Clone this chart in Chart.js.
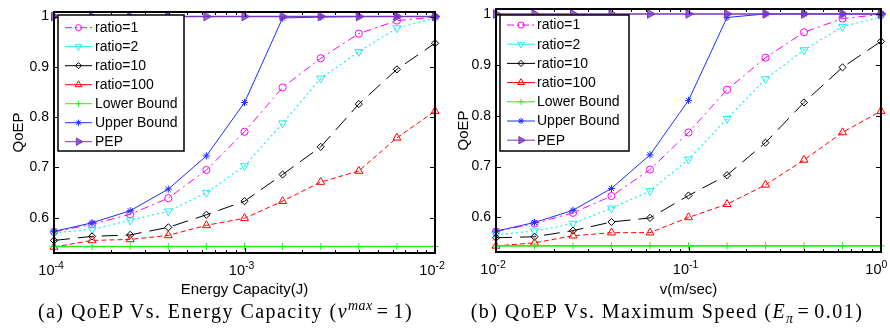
<!DOCTYPE html>
<html><head><meta charset="utf-8">
<script src="https://cdn.jsdelivr.net/npm/chart.js@4/dist/chart.umd.min.js"></script>
<style>
html,body{margin:0;padding:0;background:#fff}
body{width:890px;height:332px;overflow:hidden;position:relative;font-family:"Liberation Sans",Arial,sans-serif}
.pane{position:absolute;top:0;height:299px}
#pa{left:0;width:460px}#pb{left:445px;width:445px}
.cap{position:absolute;top:300px;height:26px;font-family:"Liberation Serif","Times New Roman",serif;font-size:20px;letter-spacing:1.45px;white-space:nowrap;text-align:center;color:#000}
#capa{left:0;width:451px}
#capb{left:445px;width:444px}
sup,sub{font-size:70%;line-height:0;letter-spacing:0.5px}
.eq{margin:0 4px}
</style></head><body>
<div class="pane" id="pa"><canvas id="ca" width="460" height="299"></canvas></div>
<div class="pane" id="pb"><canvas id="cb" width="445" height="299"></canvas></div>
<div class="cap" id="capa">(a) QoEP Vs. Energy Capacity (<i>v</i><sup><i>max</i></sup><span class="eq">=</span>1)</div>
<div class="cap" id="capb">(b) QoEP Vs. Maximum Speed (<i>E</i><sub><i>π</i></sub><span class="eq">=</span>0.01)</div>
<script>
// ---------- data ----------
const seriesNames = ['ratio=1','ratio=2','ratio=10','ratio=100','Lower Bound','Upper Bound','PEP'];

const energyCapacity = [0.0001, 0.0001585, 0.0002512, 0.0003981, 0.000631, 0.001, 0.001585, 0.002512, 0.003981, 0.00631, 0.01];
const maxSpeed       = [0.01, 0.01585, 0.02512, 0.03981, 0.0631, 0.1, 0.1585, 0.2512, 0.3981, 0.631, 1];

const qoepA_ratio1   = [0.572, 0.587, 0.607, 0.639, 0.695, 0.771, 0.859, 0.917, 0.966, 0.992, 0.999];
const qoepA_ratio2   = [0.570, 0.577, 0.595, 0.613, 0.650, 0.703, 0.788, 0.877, 0.930, 0.977, 0.997];
const qoepA_ratio10  = [0.555, 0.563, 0.566, 0.581, 0.606, 0.633, 0.686, 0.741, 0.826, 0.895, 0.947];
const qoepA_ratio100 = [0.542, 0.555, 0.557, 0.565, 0.585, 0.599, 0.633, 0.671, 0.693, 0.759, 0.812];
const qoepA_lower    = [0.543, 0.543, 0.543, 0.543, 0.543, 0.543, 0.543, 0.543, 0.543, 0.543, 0.543];
const qoepA_upper    = [0.573, 0.590, 0.614, 0.657, 0.723, 0.829, 0.997, 0.999, 1, 1, 1];
const qoepA_pep      = [1, 1, 1, 1, 1, 1, 1, 1, 1, 1, 1];

const qoepB_ratio1   = [0.572, 0.588, 0.609, 0.642, 0.694, 0.767, 0.851, 0.914, 0.964, 0.991, 0.999];
const qoepB_ratio2   = [0.566, 0.573, 0.588, 0.618, 0.652, 0.714, 0.794, 0.872, 0.929, 0.975, 0.994];
const qoepB_ratio10  = [0.560, 0.562, 0.574, 0.591, 0.599, 0.643, 0.683, 0.747, 0.826, 0.895, 0.946];
const qoepB_ratio100 = [0.544, 0.550, 0.564, 0.570, 0.570, 0.600, 0.626, 0.664, 0.713, 0.767, 0.809];
const qoepB_lower    = [0.544, 0.544, 0.544, 0.544, 0.544, 0.544, 0.544, 0.544, 0.544, 0.544, 0.544];
const qoepB_upper    = [0.573, 0.590, 0.614, 0.657, 0.723, 0.830, 0.993, 1, 1, 1, 1];
const qoepB_pep      = [1, 1, 1, 1, 1, 1, 1, 1, 1, 1, 1];

const yTickValues = [0.6, 0.7, 0.8, 0.9, 1];
const xTickValuesA = [0.0001, 0.001, 0.01];
const xTickLabelsA = [['10', '-4'], ['10', '-3'], ['10', '-2']];
const xTickValuesB = [0.01, 0.1, 1];
const xTickLabelsB = [['10', '-2'], ['10', '-1'], ['10', '0']];

// ---------- styles ----------
const styles = [
  {color:'#ff00ff', bg:'rgba(0,0,0,0)', dash:[8,4,2,4], legendDash:[7,3,2,3], ps:'circle', rot:0, r:3.6, w:1},
  {color:'#22eeee', bg:'rgba(0,0,0,0)', dash:[2,3], legendDash:[], ps:'triangle', rot:180, r:4.6, w:1.2},
  {color:'#000000', bg:'rgba(0,0,0,0)', dash:[16,8], legendDash:[], ps:'rectRot', rot:0, r:3.6, w:1},
  {color:'#ff0000', bg:'rgba(0,0,0,0)', dash:[5,3], legendDash:[], ps:'triangle', rot:0, r:4.6, w:1},
  {color:'#22f022', bg:'rgba(0,0,0,0)', dash:[], legendDash:[], ps:'cross', rot:0, r:3.6, w:1.6},
  {color:'#1f2fff', bg:'rgba(0,0,0,0)', dash:[], legendDash:[], ps:'star', rot:0, r:3.6, w:1},
  {color:'#7a35c0', bg:'rgba(122,53,192,0.75)', dash:[], legendDash:[], ps:'triangle', rot:90, r:5, w:1.5}
];

const FONT = '"Liberation Sans", Arial, sans-serif';
const CANVAS_H = 299;
const H = Chart.helpers;

const framePlugin = {
  id: 'frame',
  afterDatasetsDraw(chart, args, o) {
    const {ctx, chartArea: a} = chart;
    const xs = chart.scales.x, ys = chart.scales.y;
    ctx.save();
    ctx.strokeStyle = '#000';
    ctx.lineWidth = 1;
    ctx.setLineDash([]);
    ctx.beginPath();
    for (const v of o.yTicks) {
      const py = Math.round(ys.getPixelForValue(v)) + 0.5;
      ctx.moveTo(a.left, py); ctx.lineTo(a.left + 5, py);
      ctx.moveTo(a.right, py); ctx.lineTo(a.right - 5, py);
    }
    for (const d of o.xTicks) {
      const px = Math.round(xs.getPixelForValue(d)) + 0.5;
      ctx.moveTo(px, a.bottom); ctx.lineTo(px, a.bottom - 5);
      ctx.moveTo(px, a.top); ctx.lineTo(px, a.top + 5);
      for (let m = 2; m <= 9; m++) {
        const v = d * m;
        if (v > xs.max) break;
        const qx = Math.round(xs.getPixelForValue(v)) + 0.5;
        ctx.moveTo(qx, a.bottom); ctx.lineTo(qx, a.bottom - 3);
        ctx.moveTo(qx, a.top); ctx.lineTo(qx, a.top + 3);
      }
    }
    ctx.stroke();
    ctx.lineWidth = 2;
    ctx.strokeRect(a.left, a.top, a.right - a.left, a.bottom - a.top);
    // power-of-ten tick labels
    ctx.fillStyle = '#000';
    ctx.textBaseline = 'alphabetic';
    o.xTicks.forEach((v, i) => {
      const px = xs.getPixelForValue(v);
      const [base, ex] = o.xLabels[i];
      ctx.font = '14.5px ' + FONT;
      ctx.textAlign = 'right';
      ctx.fillText(base, px + 0.5, a.bottom + 22);
      ctx.font = '10.5px ' + FONT;
      ctx.textAlign = 'left';
      ctx.fillText(ex, px + 0.5, a.bottom + 15.5);
    });
    ctx.restore();
  }
};

const boxLegendPlugin = {
  id: 'boxLegend',
  afterDraw(chart, args, o) {
    const {ctx, chartArea: a} = chart;
    const bx = a.left + o.dx, by = a.top + o.dy;
    ctx.save();
    ctx.fillStyle = '#fff';
    ctx.fillRect(bx, by, o.w, o.h);
    ctx.strokeStyle = '#000';
    ctx.lineWidth = 1.5;
    ctx.setLineDash([]);
    ctx.strokeRect(bx, by, o.w, o.h);
    ctx.font = '14px ' + FONT;
    ctx.textBaseline = 'middle';
    ctx.textAlign = 'left';
    chart.data.datasets.forEach((ds, i) => {
      const st = styles[i];
      const cy = by + o.first + i * o.step;
      const x0 = bx + o.sx0, x1 = bx + o.sx1;
      ctx.strokeStyle = st.color;
      ctx.lineWidth = 1;
      ctx.setLineDash(st.legendDash);
      ctx.beginPath(); ctx.moveTo(x0, cy); ctx.lineTo(x1, cy); ctx.stroke();
      ctx.setLineDash([]);
      ctx.fillStyle = st.bg;
      H.drawPoint(ctx, {pointStyle: st.ps, rotation: st.rot, radius: st.r * 0.85, borderWidth: 1}, (x0 + x1) / 2, cy);
      ctx.fillStyle = '#000';
      ctx.fillText(ds.label, bx + o.tx, cy + 0.5);
    });
    ctx.restore();
  }
};

function makeChart(canvasId, xs, series, xTickVals, xTickLabels, xTitle, g) {
  const W = document.getElementById(canvasId).width;
  const datasets = series.map((vals, i) => {
    const st = styles[i];
    return {
      label: seriesNames[i],
      data: xs.map((x, k) => ({x: x, y: vals[k]})),
      borderColor: st.color,
      backgroundColor: st.bg,
      borderWidth: st.w,
      borderDash: st.dash,
      pointStyle: st.ps,
      pointRotation: st.rot,
      pointRadius: st.r,
      pointBorderWidth: 1,
      pointBorderColor: st.color,
      pointBackgroundColor: st.bg,
      tension: 0,
      fill: false,
      clip: false,
      order: 10 - i
    };
  });
  return new Chart(document.getElementById(canvasId), {
    type: 'line',
    data: {datasets},
    plugins: [framePlugin, boxLegendPlugin],
    options: {
      responsive: false,
      animation: false,
      events: [],
      layout: {padding: {left: 10, right: W - g.right, top: g.top, bottom: 0}},
      scales: {
        x: {
          type: 'logarithmic',
          min: xTickVals[0], max: xTickVals[xTickVals.length - 1],
          grid: {display: false, drawTicks: false},
          border: {display: false},
          afterBuildTicks: s => { s.ticks = xTickVals.map(v => ({value: v})); },
          afterFit: s => { s.height = CANVAS_H - g.bottom; s.paddingLeft = 0; s.paddingRight = 0; },
          ticks: {display: false},
          title: {display: true, text: xTitle, color: '#000', padding: 0,
                  font: {family: FONT, size: 15}}
        },
        y: {
          type: 'linear',
          min: g.ymin, max: g.ymax,
          grid: {display: false, drawTicks: false},
          border: {display: false},
          afterBuildTicks: s => { s.ticks = yTickValues.map(v => ({value: v})); },
          afterFit: s => { s.width = g.left - 10; s.paddingTop = 0; s.paddingBottom = 0; },
          ticks: {
            padding: 5, color: '#000',
            font: {family: FONT, size: 14},
            callback: v => String(Math.round(v * 10) / 10)
          },
          title: {display: true, text: 'QoEP', color: '#000', padding: 0,
                  font: {family: FONT, size: 15}}
        }
      },
      plugins: {
        legend: {display: false},
        tooltip: {enabled: false},
        frame: {yTicks: yTickValues, xTicks: xTickVals, xLabels: xTickLabels},
        boxLegend: g.legend
      }
    }
  });
}

makeChart('ca', energyCapacity,
  [qoepA_ratio1, qoepA_ratio2, qoepA_ratio10, qoepA_ratio100, qoepA_lower, qoepA_upper, qoepA_pep],
  xTickValuesA, xTickLabelsA, 'Energy Capacity(J)',
  {left: 54, right: 435, top: 12, bottom: 253, ymin: 0.53, ymax: 1.009,
   legend: {dx: 4, dy: 3, w: 126, h: 136, first: 12.7, step: 19, sx0: 7, sx1: 34, tx: 37}});

makeChart('cb', maxSpeed,
  [qoepB_ratio1, qoepB_ratio2, qoepB_ratio10, qoepB_ratio100, qoepB_lower, qoepB_upper, qoepB_pep],
  xTickValuesB, xTickLabelsB, 'v(m/sec)',
  {left: 51, right: 436, top: 9, bottom: 252, ymin: 0.532, ymax: 1.0097,
   legend: {dx: 4, dy: 6, w: 129, h: 136, first: 10, step: 19.2, sx0: 7, sx1: 35, tx: 37}});
</script>
</body></html>
